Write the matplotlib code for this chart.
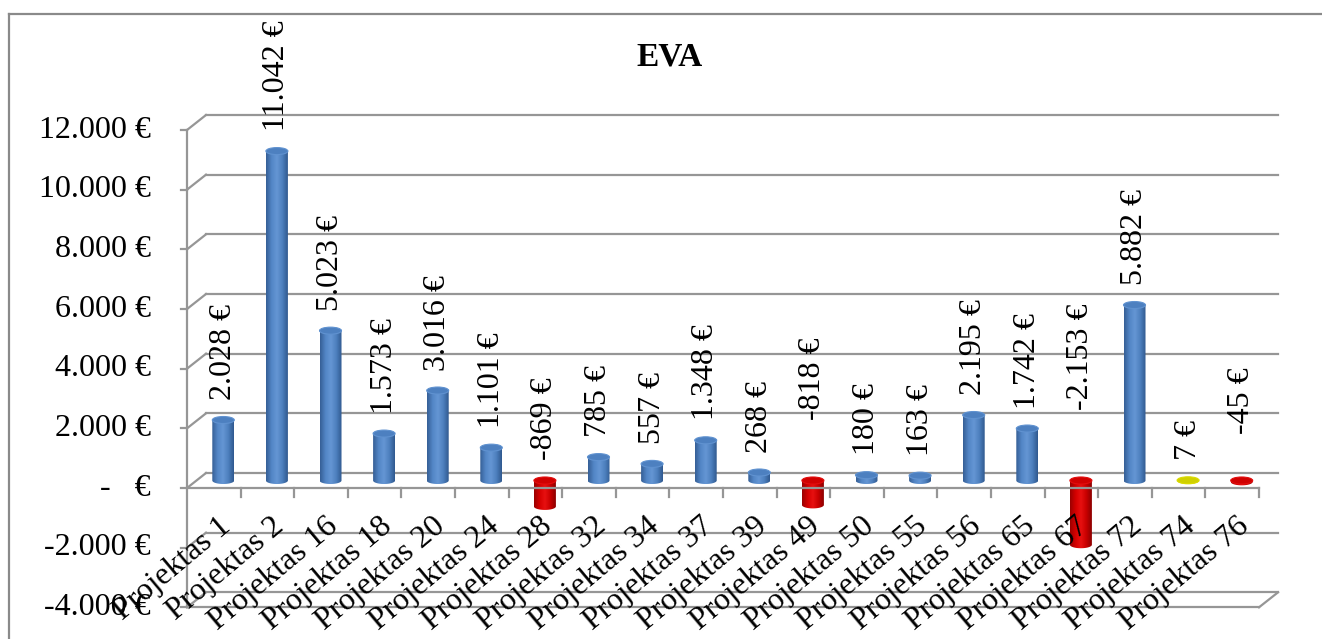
import numpy as np
import matplotlib
matplotlib.use('Agg')
import matplotlib.pyplot as plt
from matplotlib.patches import Ellipse, Polygon
from matplotlib.colors import LinearSegmentedColormap
from matplotlib.lines import Line2D

plt.rcParams['font.family'] = ['Liberation Serif', 'DejaVu Serif']

# ---- data ----
projects = ['Projektas 1', 'Projektas 2', 'Projektas 16', 'Projektas 18', 'Projektas 20',
            'Projektas 24', 'Projektas 28', 'Projektas 32', 'Projektas 34', 'Projektas 37',
            'Projektas 39', 'Projektas 49', 'Projektas 50', 'Projektas 55', 'Projektas 56',
            'Projektas 65', 'Projektas 67', 'Projektas 72', 'Projektas 74', 'Projektas 76']
eva = [2028, 11042, 5023, 1573, 3016, 1101, -869, 785, 557, 1348,
       268, -818, 180, 163, 2195, 1742, -2153, 5882, 7, -45]
y_ticks = [-4000, -2000, 0, 2000, 4000, 6000, 8000, 10000, 12000]

# extra lift (px) for a few value labels so they clear neighbours
label_lift = [0] * len(eva)
label_lift[11] = 40
label_lift[16] = 50
label_lift[19] = 27


def eur(v):
    if v == 0:
        return '-   €'
    return f'{v:,}'.replace(',', '.') + ' €'


# ---- layout (pixels) ----
W, H = 1322, 639
SX = 53.6            # px per category
SY = 0.029833        # px per euro
X0, Y0 = 213.8, 488  # pixel position of category 0 / value 0 (from top)
BACK = (19, 15)      # depth offset of back wall, px
MID = (9.5, 7.5)     # depth offset of the cylinders, px
FS = 23
GRID = '#969696'

fig = plt.figure(figsize=(W / 100, H / 100), dpi=100)
ax = fig.add_axes([0, 0, 1, 1])
ax.axis('off')
ax.set_autoscale_on(False)
ax.set_xlim(-X0 / SX, (W - X0) / SX)
ax.set_ylim(-(H - Y0) / SY, Y0 / SY)

bdx, bdy = BACK[0] / SX, BACK[1] / SY
mdx, mdy = MID[0] / SX, MID[1] / SY
n = len(projects)
xl, xr = -0.5, n - 0.5
lw = 1.6

# back wall grid + left side diagonals
for v in y_ticks:
    ax.plot([xl + bdx, xr + bdx], [v + bdy, v + bdy], color=GRID, lw=lw, zorder=1)
    ax.plot([xl, xl + bdx], [v, v + bdy], color=GRID, lw=lw, zorder=1)
    ax.plot([xl - 6 / SX, xl], [v, v], color=GRID, lw=lw, zorder=1)
    ax.annotate(eur(v), (xl, v), xytext=(-36, 0), textcoords='offset pixels',
                ha='right', va='center', fontsize=FS)

# front vertical axis
ax.plot([xl, xl], [y_ticks[0], y_ticks[-1]], color=GRID, lw=lw, zorder=1)
# floor front edge (bottom) and its right diagonal
ax.plot([xl, xr], [y_ticks[0], y_ticks[0]], color=GRID, lw=lw, zorder=1)
ax.plot([xr, xr + bdx], [y_ticks[0], y_ticks[0] + bdy], color=GRID, lw=lw, zorder=1)
# category axis at zero with tick marks
ax.plot([xl, xr], [0, 0], color=GRID, lw=lw, zorder=4)
for i in range(n):
    ax.plot([i + 0.5, i + 0.5], [0, -9 / SY], color=GRID, lw=lw, zorder=4)

# cylinder shading
cmaps = {
    'blue': LinearSegmentedColormap.from_list('b', ['#365f96', '#5286c6', '#6596d4', '#4d80be', '#30598f']),
    'red': LinearSegmentedColormap.from_list('r', ['#9a0000', '#d40000', '#e81010', '#c80000', '#8c0000']),
    'yellow': LinearSegmentedColormap.from_list('y', ['#a8a800', '#d8d800', '#e0e000', '#c8c800', '#9c9c00']),
}
caps = {'blue': '#4d80c0', 'red': '#d00000', 'yellow': '#d0d000'}
grad = np.linspace(0, 1, 64).reshape(1, -1)

cw = 22 / SX    # cylinder width
ch = 7 / SY     # ellipse height
t = np.linspace(0, np.pi, 40)

for i, v in enumerate(eva):
    key = 'red' if v < 0 else ('yellow' if v < 50 else 'blue')
    cx = i + mdx
    top = max(v, 0) + mdy
    bot = min(v, 0) + mdy
    x0, x1 = cx - cw / 2, cx + cw / 2
    # body outline: straight top, sides, half ellipse at the bottom
    pts = [(x0, top), (x1, top)]
    pts += [(cx + cw / 2 * np.cos(a), bot - ch / 2 * np.sin(a)) for a in t]
    body = Polygon(pts, closed=True, facecolor='none', edgecolor='none', zorder=3)
    ax.add_patch(body)
    im = ax.imshow(grad, extent=[x0, x1, bot - ch, top], aspect='auto',
                   cmap=cmaps[key], zorder=3, interpolation='bilinear')
    im.set_clip_path(body)
    ax.add_patch(Ellipse((cx, top), cw, ch, facecolor=caps[key],
                         edgecolor=cmaps[key](0.55), lw=0.8, zorder=3.5))
    ax.annotate(eur(v), (cx, top), xytext=(0, 20 + label_lift[i]), textcoords='offset pixels',
                rotation=90, ha='center', va='bottom', fontsize=FS, zorder=5)

# category labels
for i, name in enumerate(projects):
    ax.annotate(name, (i, 0), xytext=(4, -24), textcoords='offset pixels',
                rotation=40, rotation_mode='anchor', ha='right', va='top',
                fontsize=FS, zorder=5)

fig.text(670 / W, 1 - 57 / H, 'EVA', ha='center', va='center',
         fontsize=FS + 1, fontweight='bold')

# chart frame
fig.add_artist(Line2D([8.5 / W, 1], [1 - 14 / H, 1 - 14 / H], color='#8a8a8a', lw=1.6,
                      transform=fig.transFigure))
fig.add_artist(Line2D([8.5 / W, 8.5 / W], [0, 1 - 14 / H], color='#8a8a8a', lw=1.6,
                      transform=fig.transFigure))

fig.savefig('out.png', dpi=100)
